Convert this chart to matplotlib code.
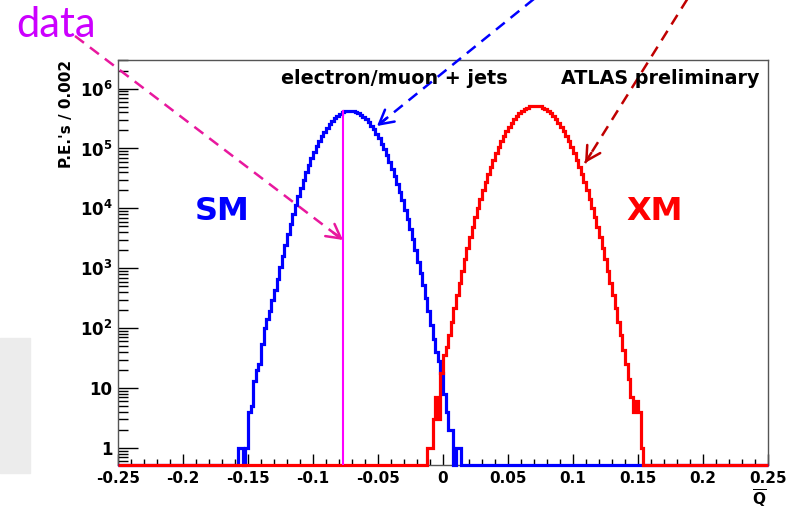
import numpy as np
import matplotlib
matplotlib.use('Agg')
import matplotlib.pyplot as plt
from matplotlib.lines import Line2D
from matplotlib.patches import Rectangle
from matplotlib.ticker import FixedLocator, FixedFormatter, MultipleLocator, LogLocator, NullFormatter

plt.rcParams['font.family'] = ['DejaVu Sans']
plt.rcParams['mathtext.fontset'] = 'custom'
plt.rcParams['mathtext.rm'] = 'DejaVu Sans:bold'
plt.rcParams['mathtext.bf'] = 'DejaVu Sans:bold'
plt.rcParams['mathtext.it'] = 'DejaVu Sans:bold'

# histogram binning (P.E.'s / 0.002)
bin_width = 0.002
q_min, q_max = -0.25, 0.25

# SM pseudo-experiments, first bin starts at -0.158
sm_first_edge = -0.158
sm_counts = [1, 1, 0, 1, 4, 5, 13, 20, 25, 55,
             100, 140, 190, 290, 430, 655, 1035, 1611, 2462, 3707,
             5480, 7962, 11400, 16030, 22130, 30120, 40270, 52900, 68390, 86900,
             108600, 133500, 161300, 191700, 224000, 257400, 290700, 323000, 352800, 378900,
             400300, 415700, 424600, 426500, 421000, 408800, 390300, 366400, 338200, 307100,
             274100, 240600, 207700, 176300, 147100, 120700, 97370, 77240, 60280, 46240,
             34880, 25880, 18870, 13540, 9546, 6620, 4513, 3027, 1996, 1294,
             825, 517, 319, 193, 115, 67, 40, 28, 18, 8,
             4, 2, 2, 0, 1, 1]

# XM pseudo-experiments, first bin starts at -0.012
xm_first_edge = -0.012
xm_counts = [1, 1, 3, 7, 3, 18, 35, 48, 76, 129,
             215, 352, 568, 902, 1409, 2165, 3273, 4870, 7127, 10260,
             14550, 20280, 27810, 37540, 49850, 65150, 83750, 105900, 131900, 161500,
             194600, 230700, 269100, 308900, 348800, 387500, 423600, 455800, 482400, 502300,
             514600, 518800, 514600, 502300, 482400, 455800, 423600, 387500, 348800, 308900,
             269100, 230700, 194600, 161500, 131900, 105900, 83750, 65150, 49850, 37540,
             27810, 20280, 14550, 10260, 7127, 4870, 3273, 2165, 1409, 902,
             568, 352, 215, 129, 76, 44, 25, 14, 7, 4,
             6, 4, 1]

# observed value
data_q = -0.077
data_top = 4.2e5

x_ticks = [-0.25, -0.2, -0.15, -0.1, -0.05, 0, 0.05, 0.1, 0.15, 0.2, 0.25]
x_labels = ['-0.25', '-0.2', '-0.15', '-0.1', '-0.05', '0', '0.05', '0.1', '0.15', '0.2', '0.25']
y_ticks = [1, 10, 1e2, 1e3, 1e4, 1e5, 1e6]
y_labels = ['1', '10', r'$10^{2}$', r'$10^{3}$', r'$10^{4}$', r'$10^{5}$', r'$10^{6}$']

y_lo, y_hi = 0.52, 3.0e6

edges = np.round(np.arange(q_min, q_max + bin_width / 2, bin_width), 4)
nbins = len(edges) - 1


def full_hist(first_edge, counts):
    h = np.zeros(nbins)
    i0 = int(round((first_edge - q_min) / bin_width))
    h[i0:i0 + len(counts)] = counts
    return h


W, H = 800, 509


def fp(x, y):
    # image pixel -> figure fraction
    return x / W, 1 - y / H


fig = plt.figure(figsize=(W / 100, H / 100), dpi=100)
fig.patches.append(Rectangle(fp(0, 473), 30 / W, 135 / H, transform=fig.transFigure,
                             color='#ececec', zorder=0))

ax = fig.add_axes([118 / W, 44 / H, 650 / W, 405 / H])
ax.set_yscale('log')

sm = full_hist(sm_first_edge, sm_counts)
xm = full_hist(xm_first_edge, xm_counts)
ax.stairs(np.where(sm > 0, sm, y_lo), edges, color='#0000ff', lw=2.3,
          baseline=None, clip_on=False, zorder=3)
ax.stairs(np.where(xm > 0, xm, y_lo), edges, color='#ff0000', lw=2.3,
          baseline=None, clip_on=False, zorder=3.1)
ax.plot([data_q, data_q], [y_lo, data_top], color='#ff00ff', lw=1.5, zorder=3.2)

ax.set_xlim(q_min, q_max)
ax.set_ylim(y_lo, y_hi)

ax.xaxis.set_major_locator(FixedLocator(x_ticks))
ax.xaxis.set_major_formatter(FixedFormatter(x_labels))
ax.xaxis.set_minor_locator(MultipleLocator(0.01))
ax.yaxis.set_major_locator(FixedLocator(y_ticks))
ax.yaxis.set_major_formatter(FixedFormatter(y_labels))
ax.yaxis.set_minor_locator(LogLocator(base=10, subs=np.arange(2, 10), numticks=20))
ax.yaxis.set_minor_formatter(NullFormatter())

ax.tick_params(which='both', direction='in', top=False, right=False, color='black', width=1)
ax.tick_params(axis='x', which='major', length=8, labelsize=11, pad=4)
ax.tick_params(axis='x', which='minor', length=4.5)
ax.tick_params(axis='y', which='major', length=14.5, labelsize=12, pad=4)
ax.tick_params(axis='y', which='minor', length=7)
for lbl in ax.get_xticklabels() + ax.get_yticklabels():
    lbl.set_fontweight('bold')

for s in ax.spines.values():
    s.set_color('#555555')
    s.set_linewidth(1.0)

# axis titles
fig.text(*fp(67, 60), "P.E.'s / 0.002", rotation=90, ha='center', va='top',
         fontsize=11, fontweight='bold')
fig.text(*fp(767, 488), r'$\overline{\mathbf{Q}}$', ha='right', va='top', fontsize=11)

# labels in the frame
fig.text(*fp(394, 79), 'electron/muon + jets', ha='center', va='center',
         fontsize=13.8, fontweight='bold')
fig.text(*fp(660, 79), 'ATLAS preliminary', ha='center', va='center',
         fontsize=13.8, fontweight='bold')
fig.text(*fp(222, 212), 'SM', ha='center', va='center', fontsize=23,
         fontweight='bold', color='#0000ff')
fig.text(*fp(655, 212), 'XM', ha='center', va='center', fontsize=23,
         fontweight='bold', color='#ff0000')
fig.text(*fp(16, 37), 'data', ha='left', va='baseline', fontsize=30,
         family=['Lato', 'DejaVu Sans'], color='#cc00ff')


def dashed_arrow(tail, head, color):
    x1, y1 = fp(*tail)
    x2, y2 = fp(*head)
    fig.add_artist(Line2D([x1, x2], [y1, y2], transform=fig.transFigure, color=color,
                          lw=1.8, ls=(0, (4.5, 3))))
    d = np.hypot(head[0] - tail[0], head[1] - tail[1])
    bx = head[0] - (head[0] - tail[0]) / d * 12
    by = head[1] - (head[1] - tail[1]) / d * 12
    ax.annotate('', xy=(head[0], H - head[1]), xytext=(bx, H - by),
                xycoords='figure pixels', textcoords='figure pixels',
                arrowprops=dict(arrowstyle='->,head_length=1.0,head_width=0.55',
                                color=color, lw=1.8, shrinkA=0, shrinkB=0),
                annotation_clip=False)


dashed_arrow((75, 36), (343, 240), '#e8189e')
dashed_arrow((545, -10), (377, 126), '#0000ff')
dashed_arrow((693, -10), (585, 163), '#c00000')

fig.savefig('out.png', dpi=100)
